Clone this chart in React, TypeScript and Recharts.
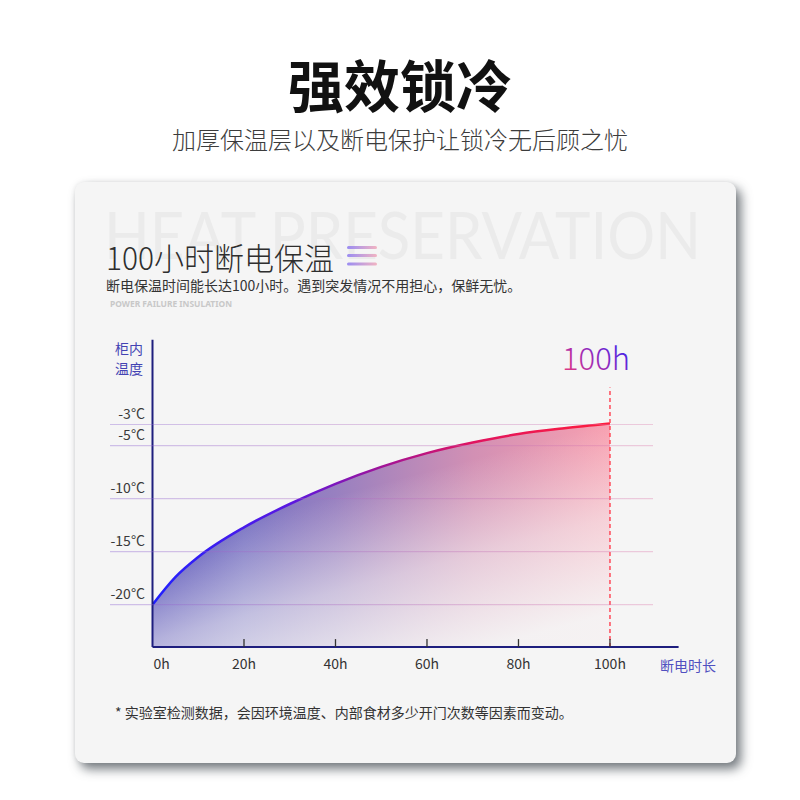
import React from 'react';
import { AreaChart, Area, XAxis, YAxis, ReferenceLine } from 'recharts';

// ---- data ----
const HOURS = [0, 5, 10, 20, 30, 40, 50, 60, 70, 80, 90, 100];
const TEMPS = [-20, -17.4, -15.5, -12.7, -10.5, -8.6, -7.0, -5.7, -4.7, -3.9, -3.35, -2.9];
const X_TICKS = [0, 20, 40, 60, 80, 100];
const Y_TICKS = [-3, -5, -10, -15, -20];
const X_DOMAIN: [number, number] = [0, 115];
const Y_DOMAIN: [number, number] = [-24, 5];
const END_HOUR = 100;
const DASH_TOP = 0.5;
const X_UNIT = 'h';
const Y_UNIT = '°C';
const END_LABEL = '100h';

const TITLE = '强效锁冷';
const SUBTITLE = '加厚保温层以及断电保护让锁冷无后顾之忧';
const WATERMARK = 'HEAT PRESERVATION';
const HEADING = '100小时断电保温';
const DESC = '断电保温时间能长达100小时。遇到突发情况不用担心，保鲜无忧。';
const SMALL_EN = 'POWER FAILURE INSULATION';
const Y_TITLE = ['柜内', '温度'];
const X_TITLE = '断电时长';
const FOOTNOTE = '* 实验室检测数据，会因环境温度、内部食材多少开门次数等因素而变动。';

const DATA = HOURS.map((h, i) => ({ h, t: TEMPS[i] }));

// ---- layout ----
const CJK = '"Noto Sans CJK SC", "Noto Sans", sans-serif';
const MARGIN = { top: 339.7, right: 121.4, bottom: 122.9, left: 112.5 };
const YAXIS_W = 40;
const XAXIS_H = 30;
const GRID_X0 = 110;
const GRID_X1 = 653;
const AXIS_COLOR = '#1e1e7e';

const YTick = (props: any) => {
  const { x, y, payload } = props;
  return (
    <g>
      <line x1={GRID_X0} x2={GRID_X1} y1={y} y2={y} stroke="url(#gridGrad)" strokeWidth={1.2} />
      <text x={x - 7.5} y={y - 5.5} textAnchor="end" fontSize={14} fill="#3a3a3a" fontFamily={CJK}>
        {payload.value}
        {Y_UNIT}
      </text>
    </g>
  );
};

const XTick = (props: any) => {
  const { x, y, payload } = props;
  const first = payload.value === X_TICKS[0];
  return (
    <g>
      {!first && <line x1={x} x2={x} y1={y - 8} y2={y} stroke="#333" strokeWidth={1.3} />}
      <text
        x={first ? x + 1 : x}
        y={y + 22}
        textAnchor={first ? 'start' : 'middle'}
        fontSize={14}
        fill="#333"
        fontFamily={CJK}
      >
        {payload.value}
        {X_UNIT}
      </text>
    </g>
  );
};

const EndLabel = (props: any) => {
  const vb = props.viewBox || {};
  return (
    <text
      x={vb.x - 14}
      y={vb.y - 17.7}
      textAnchor="middle"
      fontSize={31}
      fill="url(#endGrad)"
      fontFamily={CJK}
      fontWeight={300}
    >
      {END_LABEL}
    </text>
  );
};

export default function App() {
  return (
    <div style={{ position: 'absolute', left: 0, top: 0, width: 800, height: 800, background: '#ffffff', overflow: 'hidden' }}>
      <div
        style={{
          position: 'absolute',
          left: 75,
          top: 182,
          width: 661,
          height: 581,
          borderRadius: 9,
          background: '#f5f5f5',
          boxShadow: '5px 6px 11px rgba(80,88,94,0.8), 0 0 5px rgba(0,0,0,0.07)',
        }}
      />
      <svg width={800} height={800} style={{ position: 'absolute', left: 0, top: 0 }}>
        <defs>
          <linearGradient id="iconGrad" x1="0" y1="0" x2="1" y2="0">
            <stop offset="0" stopColor="#9a8cf2" />
            <stop offset="1" stopColor="#f2b4c2" />
          </linearGradient>
        </defs>
        <text x={400} y={107} textAnchor="middle" fontSize={56} fontWeight={700} fill="#111" fontFamily={CJK}>
          {TITLE}
        </text>
        <text x={400} y={148.5} textAnchor="middle" fontSize={24} fontWeight={300} fill="#3c3c3c" fontFamily={CJK}>
          {SUBTITLE}
        </text>
        <text
          x={104}
          y={259}
          fontSize={66}
          fontWeight={400}
          fill="#ebebeb"
          fontFamily='Lato, "Noto Sans", sans-serif'
          textLength={597}
          lengthAdjust="spacingAndGlyphs"
        >
          {WATERMARK}
        </text>
        <text
          x={106}
          y={269.5}
          fontSize={31}
          fontWeight={300}
          fill="#2e2e2e"
          fontFamily={CJK}
          textLength={228}
          lengthAdjust="spacingAndGlyphs"
        >
          {HEADING}
        </text>
        <rect x={347} y={246} width={30} height={3} rx={1.5} fill="url(#iconGrad)" />
        <rect x={347} y={254} width={30} height={3} rx={1.5} fill="url(#iconGrad)" />
        <rect x={347} y={262.5} width={30} height={3} rx={1.5} fill="url(#iconGrad)" />
        <text x={106} y={291} fontSize={14} fill="#333" fontFamily={CJK}>
          {DESC}
        </text>
        <text
          x={110}
          y={306.7}
          fontSize={8.5}
          fontWeight={700}
          fill="#c8c8c8"
          fontFamily='"Noto Sans", sans-serif'
          textLength={122}
          lengthAdjust="spacingAndGlyphs"
        >
          {SMALL_EN}
        </text>
        <text x={115} y={354.4} fontSize={14} fill="#4343b3" fontFamily={CJK}>
          {Y_TITLE[0]}
        </text>
        <text x={115} y={374.4} fontSize={14} fill="#4343b3" fontFamily={CJK}>
          {Y_TITLE[1]}
        </text>
        <text x={660} y={671} fontSize={14} fill="#5050c0" fontFamily={CJK}>
          {X_TITLE}
        </text>
        <text x={115} y={717.5} fontSize={14} fill="#333" fontFamily={CJK}>
          {FOOTNOTE}
        </text>
      </svg>
      <div style={{ position: 'absolute', left: 0, top: 0 }}>
        <AreaChart width={800} height={800} data={DATA} margin={MARGIN}>
          <defs>
            <linearGradient id="baseGrad" x1="0" y1="0" x2="1" y2="0">
              <stop offset="0" stopColor="#5650b8" />
              <stop offset="0.2" stopColor="#7c76c4" />
              <stop offset="0.4" stopColor="#9880c0" />
              <stop offset="0.7" stopColor="#d290b4" />
              <stop offset="1" stopColor="#f8a0b0" />
            </linearGradient>
            <linearGradient id="fadeGrad" gradientUnits="userSpaceOnUse" x1={610} y1={422} x2={658} y2={601}>
              <stop offset="0" stopColor="#f5f5f5" stopOpacity={0} />
              <stop offset="0.5" stopColor="#f5f5f5" stopOpacity={0.58} />
              <stop offset="1" stopColor="#f5f5f5" stopOpacity={0.96} />
            </linearGradient>
            <linearGradient id="strokeGrad" x1="0" y1="0" x2="1" y2="0">
              <stop offset="0" stopColor="#2020ff" />
              <stop offset="0.3" stopColor="#5a18e0" />
              <stop offset="0.5" stopColor="#a01498" />
              <stop offset="0.7" stopColor="#e01460" />
              <stop offset="1" stopColor="#ff1e3c" />
            </linearGradient>
            <linearGradient id="gridGrad" gradientUnits="userSpaceOnUse" x1={GRID_X0} y1={0} x2={GRID_X1} y2={0}>
              <stop offset="0" stopColor="rgb(140,100,210)" stopOpacity={0.38} />
              <stop offset="1" stopColor="rgb(220,120,170)" stopOpacity={0.35} />
            </linearGradient>
            <linearGradient id="endGrad" x1="0" y1="1" x2="1" y2="0.3">
              <stop offset="0" stopColor="#f03c74" />
              <stop offset="0.45" stopColor="#a82cb0" />
              <stop offset="1" stopColor="#3a22f0" />
            </linearGradient>
          </defs>
          <Area
            type="monotone"
            dataKey="t"
            baseValue="dataMin"
            stroke="none"
            fill="url(#baseGrad)"
            fillOpacity={1}
            dot={false}
            activeDot={false}
            isAnimationActive={false}
          />
          <Area
            type="monotone"
            dataKey="t"
            baseValue="dataMin"
            stroke="url(#strokeGrad)"
            strokeWidth={2.5}
            fill="url(#fadeGrad)"
            fillOpacity={1}
            dot={false}
            activeDot={false}
            isAnimationActive={false}
          />
          <ReferenceLine
            segment={[
              { x: END_HOUR, y: Y_DOMAIN[0] },
              { x: END_HOUR, y: DASH_TOP },
            ]}
            stroke="#ff4a5a"
            strokeWidth={1.5}
            strokeDasharray="4 3"
            label={<EndLabel />}
          />
          <XAxis
            dataKey="h"
            type="number"
            domain={X_DOMAIN}
            ticks={X_TICKS}
            interval={0}
            height={XAXIS_H}
            tickSize={0}
            tickMargin={0}
            tickLine={false}
            axisLine={{ stroke: AXIS_COLOR, strokeWidth: 2 }}
            tick={<XTick />}
            allowDataOverflow
          />
          <YAxis
            type="number"
            domain={Y_DOMAIN}
            ticks={Y_TICKS}
            interval={0}
            width={YAXIS_W}
            tickSize={0}
            tickMargin={0}
            tickLine={false}
            axisLine={{ stroke: AXIS_COLOR, strokeWidth: 2 }}
            tick={<YTick />}
            allowDataOverflow
          />
        </AreaChart>
      </div>
    </div>
  );
}
